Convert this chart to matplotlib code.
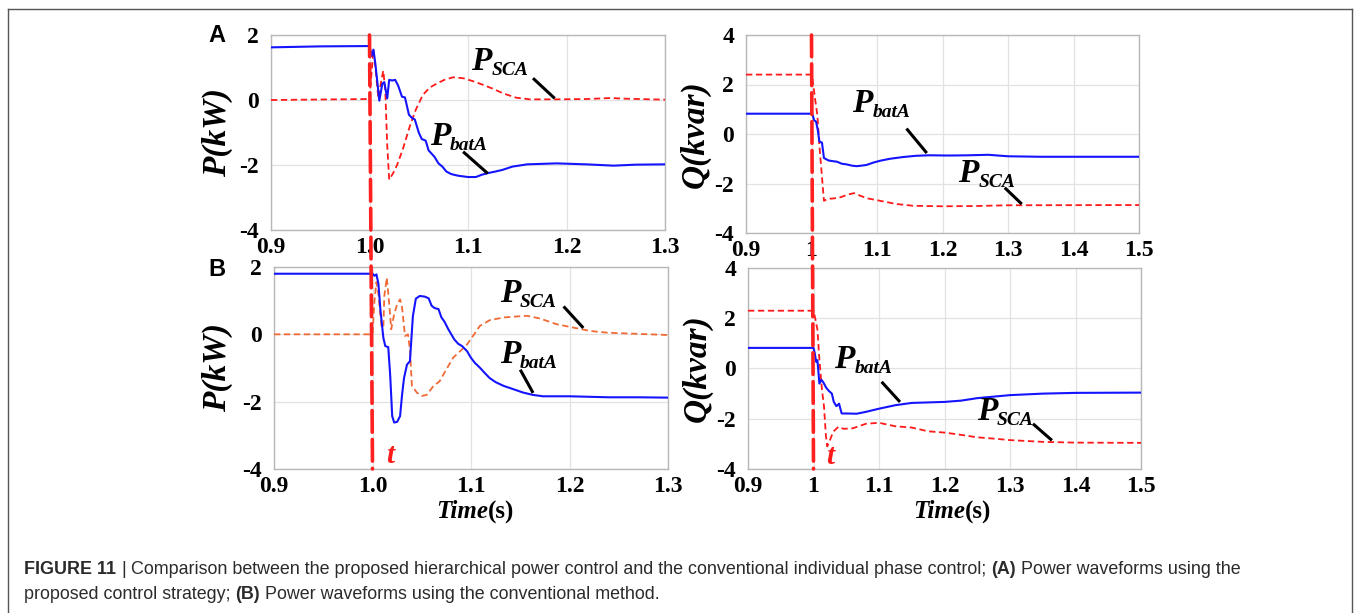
import matplotlib
matplotlib.use("Agg")
import matplotlib.pyplot as plt
from matplotlib.patches import ConnectionPatch
from matplotlib.lines import Line2D

SERIF = 'Liberation Serif'

# ---- panel A, active power ----
a_p_bat_t = [0.9, 0.95, 1.0, 1.002, 1.004, 1.006, 1.010, 1.013, 1.015, 1.018, 1.020, 1.023,
             1.026, 1.029, 1.033, 1.036, 1.040, 1.043, 1.046, 1.050, 1.053, 1.057, 1.060,
             1.063, 1.066, 1.070, 1.074, 1.078, 1.083, 1.090, 1.100, 1.108, 1.114, 1.120,
             1.128, 1.135, 1.145, 1.160, 1.190, 1.220, 1.248, 1.270, 1.300]
a_p_bat = [1.62, 1.65, 1.66, 1.35, 1.55, 1.10, -0.02, 0.50, 0.55, 0.05, 0.62, 0.60,
           0.62, 0.45, 0.10, 0.08, -0.45, -0.55, -0.60, -1.00, -1.20, -1.25, -1.55,
           -1.65, -1.75, -1.95, -2.05, -2.20, -2.28, -2.33, -2.37, -2.37, -2.30, -2.25,
           -2.20, -2.15, -2.05, -1.98, -1.95, -1.98, -2.02, -1.99, -1.98]
a_p_sca_t = [0.9, 1.0, 1.002, 1.004, 1.006, 1.009, 1.012, 1.014, 1.016, 1.018, 1.020, 1.024,
             1.028, 1.034, 1.041, 1.047, 1.054, 1.061, 1.068, 1.076, 1.085, 1.095, 1.105,
             1.115, 1.125, 1.136, 1.149, 1.163, 1.190, 1.220, 1.245, 1.260, 1.300]
a_p_sca = [0.0, 0.03, 0.80, 1.55, 1.00, 0.05, 0.60, 0.90, 0.30, -1.40, -2.45, -2.25,
           -2.00, -1.50, -0.80, -0.30, 0.15, 0.38, 0.50, 0.62, 0.70, 0.67, 0.58,
           0.47, 0.35, 0.20, 0.07, 0.02, 0.02, 0.03, 0.06, 0.04, 0.01]

# ---- panel A, reactive power ----
a_q_bat_t = [0.9, 1.0, 1.002, 1.004, 1.007, 1.010, 1.012, 1.016, 1.019, 1.026, 1.033, 1.039,
             1.046, 1.054, 1.062, 1.069, 1.076, 1.084, 1.095, 1.105, 1.120, 1.140, 1.160,
             1.180, 1.210, 1.240, 1.270, 1.300, 1.350, 1.500]
a_q_bat = [0.82, 0.82, 0.75, 0.55, 0.50, 0.10, -0.30, -0.35, -0.97, -1.07, -1.10, -1.12,
           -1.20, -1.23, -1.28, -1.30, -1.28, -1.25, -1.15, -1.08, -1.00, -0.93, -0.88,
           -0.86, -0.87, -0.86, -0.84, -0.90, -0.92, -0.92]
a_q_sca_t = [0.9, 1.0, 1.003, 1.005, 1.009, 1.012, 1.019, 1.025, 1.035, 1.045, 1.055, 1.065,
             1.075, 1.085, 1.105, 1.130, 1.155, 1.200, 1.250, 1.300, 1.500]
a_q_sca = [2.40, 2.40, 1.95, 1.50, 0.75, -0.45, -2.70, -2.62, -2.60, -2.55, -2.45, -2.39,
           -2.50, -2.60, -2.70, -2.83, -2.90, -2.92, -2.91, -2.88, -2.87]

# ---- panel B, active power ----
b_p_bat_t = [0.9, 1.0, 1.002, 1.004, 1.006, 1.008, 1.011, 1.013, 1.016, 1.018, 1.020, 1.022,
             1.025, 1.028, 1.030, 1.032, 1.035, 1.038, 1.041, 1.044, 1.048, 1.053, 1.057,
             1.060, 1.063, 1.067, 1.070, 1.073, 1.077, 1.080, 1.083, 1.087, 1.091, 1.096,
             1.100, 1.104, 1.109, 1.114, 1.119, 1.125, 1.133, 1.143, 1.153, 1.163, 1.173,
             1.200, 1.240, 1.270, 1.300]
b_p_bat = [1.80, 1.80, 1.74, 1.78, 1.50, 0.74, -0.10, -0.35, -0.38, -1.24, -2.43, -2.62,
           -2.60, -2.43, -1.80, -1.30, -0.90, -0.80, 0.54, 1.06, 1.14, 1.12, 1.07,
           0.85, 0.78, 0.75, 0.50, 0.38, 0.15, 0.00, -0.15, -0.28, -0.35, -0.50,
           -0.70, -0.85, -0.99, -1.15, -1.30, -1.42, -1.53, -1.63, -1.73, -1.80, -1.84,
           -1.84, -1.87, -1.87, -1.88]
b_p_sca_t = [0.9, 1.0, 1.002, 1.004, 1.006, 1.009, 1.011, 1.012, 1.0145, 1.017, 1.019, 1.022,
             1.025, 1.028, 1.030, 1.033, 1.036, 1.038, 1.040, 1.045, 1.050, 1.055, 1.062,
             1.068, 1.075, 1.082, 1.089, 1.096, 1.102, 1.109, 1.119, 1.133, 1.146, 1.157,
             1.170, 1.187, 1.204, 1.221, 1.238, 1.255, 1.300]
b_p_sca = [0.0, 0.0, 1.00, 1.55, 1.20, 0.25, 0.20, 1.14, 1.68, 0.90, 0.15, 0.60,
           0.89, 1.04, 0.80, -0.05, 0.00, -0.45, -1.53, -1.73, -1.83, -1.80, -1.53,
           -1.40, -1.04, -0.69, -0.50, -0.30, -0.05, 0.25, 0.42, 0.50, 0.53, 0.55,
           0.47, 0.30, 0.20, 0.10, 0.05, 0.03, -0.02]

# ---- panel B, reactive power ----
b_q_bat_t = [0.9, 1.0, 1.002, 1.004, 1.006, 1.009, 1.012, 1.015, 1.019, 1.023, 1.028, 1.031,
             1.035, 1.039, 1.043, 1.050, 1.066, 1.081, 1.100, 1.125, 1.150, 1.200, 1.225,
             1.250, 1.300, 1.350, 1.400, 1.500]
b_q_bat = [0.82, 0.82, 0.60, 0.27, 0.33, -0.60, -0.45, -0.55, -0.75, -0.88, -1.00, -1.33,
           -1.50, -1.40, -1.79, -1.79, -1.80, -1.72, -1.60, -1.46, -1.37, -1.33, -1.28,
           -1.18, -1.06, -1.00, -0.97, -0.96]
b_q_sca_t = [0.9, 1.0, 1.003, 1.006, 1.009, 1.013, 1.016, 1.019, 1.021, 1.025, 1.030, 1.038,
             1.046, 1.060, 1.080, 1.100, 1.125, 1.150, 1.175, 1.200, 1.225, 1.250, 1.275,
             1.300, 1.350, 1.400, 1.500]
b_q_sca = [2.30, 2.30, 1.95, 1.55, 0.35, -0.86, -1.50, -2.70, -3.10, -2.86, -2.52, -2.32,
           -2.40, -2.38, -2.20, -2.16, -2.30, -2.35, -2.50, -2.55, -2.64, -2.74, -2.79,
           -2.85, -2.92, -2.95, -2.96]

p_xticks = [0.9, 1.0, 1.1, 1.2, 1.3]
p_xlabels = ['0.9', '1.0', '1.1', '1.2', '1.3']
q_xticks = [0.9, 1.0, 1.1, 1.2, 1.3, 1.4, 1.5]
q_xlabels = ['0.9', '1', '1.1', '1.2', '1.3', '1.4', '1.5']
p_yticks = [-4, -2, 0, 2]
p_ylabels = ['-4', '-2', '0', '2']
q_yticks = [-4, -2, 0, 2, 4]
q_ylabels = ['-4', '-2', '0', '2', '4']

BLUE = '#1414ff'
RED = '#ff1a1a'
ORANGE = '#f06a35'

W, H = 1356, 613
fig = plt.figure(figsize=(W / 100, H / 100), dpi=100)
renderer = fig.canvas.get_renderer()


def px_axes(x0, y0, x1, y1):
    return fig.add_axes([x0 / W, 1 - y1 / H, (x1 - x0) / W, (y1 - y0) / H])


ax_ap = px_axes(271, 35, 665, 230)
ax_aq = px_axes(746, 35, 1139, 233)
ax_bp = px_axes(274, 267, 668, 469)
ax_bq = px_axes(748, 268, 1141, 469)


def style(ax, xt, xl, yt, yl, ylabel):
    ax.set_xlim(xt[0], xt[-1])
    ax.set_ylim(yt[0], yt[-1])
    ax.set_xticks(xt)
    ax.set_xticklabels(xl)
    ax.set_yticks(yt)
    ax.set_yticklabels(yl)
    ax.grid(True, color='#e2e2e2', lw=0.9)
    ax.set_axisbelow(True)
    for s in ax.spines.values():
        s.set_color('#b8b8b8')
        s.set_linewidth(1.0)
    ax.tick_params(length=0, labelsize=17)
    ax.tick_params(axis='x', pad=5)
    ax.tick_params(axis='y', pad=8.5)
    for lab in ax.get_xticklabels() + ax.get_yticklabels():
        lab.set_fontfamily(SERIF)
        lab.set_fontweight('bold')
    ax.set_ylabel(ylabel, fontfamily=SERIF, fontweight='bold', fontstyle='italic', fontsize=24)


def series(ax, bt, bv, st, sv, scol):
    ax.plot(st, sv, color=scol, lw=1.3, ls=(0, (3.5, 2)), zorder=3)
    ax.plot(bt, bv, color=BLUE, lw=1.5, zorder=4)


def rich(ax, x, y, parts, trans, center=False, color='black'):
    # parts: (text, size, style, dy in px); drawn left to right
    widths = []
    for s, size, st, dy in parts:
        t = fig.text(0, 0, s, fontsize=size, fontstyle=st, fontweight='bold', fontfamily=SERIF)
        widths.append(t.get_window_extent(renderer).width)
        t.remove()
    dx = -sum(widths) / 2 if center else 0
    for (s, size, st, dy), w in zip(parts, widths):
        ax.annotate(s, xy=(x, y), xycoords=trans, xytext=(dx, dy), textcoords='offset pixels',
                    fontsize=size, fontstyle=st, fontweight='bold', fontfamily=SERIF,
                    color=color, va='baseline', ha='left', zorder=7, annotation_clip=False)
        dx += w


def tag(ax, x, y, sub, x0, y0, x1, y1):
    rich(ax, x, y, [('P', 24, 'italic', 0), (sub, 14, 'italic', -5)], ax.transData)
    ax.plot([x0, x1], [y0, y1], color='black', lw=2.2, zorder=6, solid_capstyle='butt')


style(ax_ap, p_xticks, p_xlabels, p_yticks, p_ylabels, 'P(kW)')
style(ax_aq, q_xticks, q_xlabels, q_yticks, q_ylabels, 'Q(kvar)')
style(ax_bp, p_xticks, p_xlabels, p_yticks, p_ylabels, 'P(kW)')
style(ax_bq, q_xticks, q_xlabels, q_yticks, q_ylabels, 'Q(kvar)')

ax_ap.yaxis.set_label_coords(-0.096, 0.5)
ax_bp.yaxis.set_label_coords(-0.104, 0.5)
ax_aq.yaxis.set_label_coords(-0.09, 0.5)
ax_bq.yaxis.set_label_coords(-0.09, 0.5)

series(ax_ap, a_p_bat_t, a_p_bat, a_p_sca_t, a_p_sca, RED)
series(ax_aq, a_q_bat_t, a_q_bat, a_q_sca_t, a_q_sca, RED)
series(ax_bp, b_p_bat_t, b_p_bat, b_p_sca_t, b_p_sca, ORANGE)
series(ax_bq, b_q_bat_t, b_q_bat, b_q_sca_t, b_q_sca, RED)

tag(ax_ap, 1.103, 0.92, 'SCA', 1.166, 0.67, 1.188, 0.05)
tag(ax_ap, 1.061, -1.38, 'batA', 1.095, -1.59, 1.120, -2.26)
tag(ax_aq, 1.062, 0.88, 'batA', 1.145, 0.22, 1.176, -0.77)
tag(ax_aq, 1.224, -1.94, 'SCA', 1.295, -2.17, 1.321, -2.83)
tag(ax_bp, 1.129, 0.95, 'SCA', 1.194, 0.83, 1.214, 0.19)
tag(ax_bp, 1.129, -0.85, 'batA', 1.150, -1.05, 1.163, -1.74)
tag(ax_bq, 1.032, 0.0, 'batA', 1.104, -0.53, 1.132, -1.33)
tag(ax_bq, 1.249, -2.04, 'SCA', 1.335, -2.20, 1.364, -2.86)

ax_bp.text(1.014, -3.82, 't', color=RED, fontsize=21, fontstyle='italic', fontweight='bold',
           fontfamily=SERIF, zorder=7)
ax_bq.text(1.019, -3.82, 't', color=RED, fontsize=21, fontstyle='italic', fontweight='bold',
           fontfamily=SERIF, zorder=7)

time_label = [('Time', 18, 'italic', 0), ('(s)', 18, 'normal', 0)]
rich(ax_bp, 0.51, -0.245, time_label, ax_bp.transAxes, center=True)
rich(ax_bq, 0.52, -0.245, time_label, ax_bq.transAxes, center=True)

# switching instant: one dashed line through both rows
for top, bot in ((ax_ap, ax_bp), (ax_aq, ax_bq)):
    con = ConnectionPatch(xyA=(1.0, top.get_ylim()[1]), coordsA=top.transData,
                          xyB=(1.0, bot.get_ylim()[0]), coordsB=bot.transData,
                          color='#ff2020', lw=2.6, ls=(0, (6, 2)), zorder=10)
    fig.add_artist(con)

fig.text(217 / W, 1 - 36 / H, 'A', fontfamily='Liberation Sans', fontweight='bold',
         fontsize=17, ha='center', va='center')
fig.text(217 / W, 1 - 270 / H, 'B', fontfamily='Liberation Sans', fontweight='bold',
         fontsize=17, ha='center', va='center')

# outer frame
frame_col = '#555555'
fig.add_artist(Line2D([8 / W, 8 / W], [0, 1 - 9 / H], color=frame_col, lw=1.0))
fig.add_artist(Line2D([8 / W, 1352 / W], [1 - 9 / H, 1 - 9 / H], color=frame_col, lw=1.0))
fig.add_artist(Line2D([1352 / W, 1352 / W], [0, 1 - 9 / H], color=frame_col, lw=1.0))

# caption
cap_size = 12.9
space = 0.28 * cap_size * 100 / 72


def runs(x, y, parts):
    for s, w in parts:
        t = fig.text(x / W, 1 - y / H, s, fontsize=cap_size, fontweight=w,
                     fontfamily='Liberation Sans', color='#2b2b2b', va='baseline')
        x = t.get_window_extent(renderer).x1 + space


runs(24, 574, [('FIGURE 11', 'bold'), ('|', 'normal'),
               ('Comparison between the proposed hierarchical power control and the conventional '
                'individual phase control;', 'normal'),
               ('(A)', 'bold'), ('Power waveforms using the', 'normal')])
runs(24, 599, [('proposed control strategy;', 'normal'), ('(B)', 'bold'),
               ('Power waveforms using the conventional method.', 'normal')])

fig.savefig('out.png', dpi=100)
